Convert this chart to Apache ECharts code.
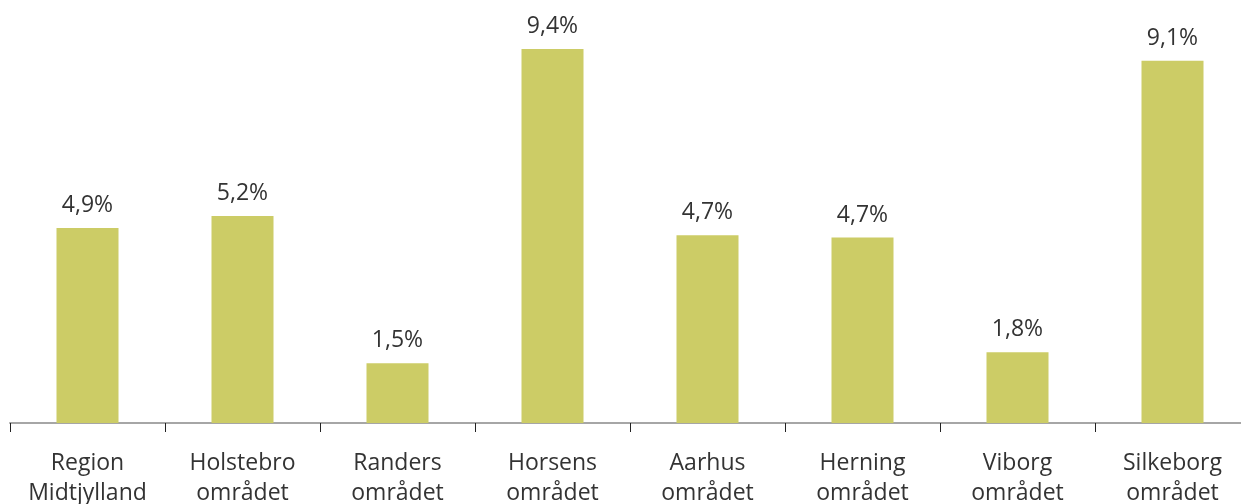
<!DOCTYPE html>
<html><head><meta charset="utf-8">
<script src="https://cdn.jsdelivr.net/npm/echarts@6/dist/echarts.min.js"></script>
<style>html,body{margin:0;padding:0;background:#fff;overflow:hidden;width:1241px;height:504px}#c{width:1260px;height:504px}</style>
</head><body><div id="c"></div>
<script>
const categories = ["Region\nMidtjylland","Holstebro\nområdet","Randers\nområdet","Horsens\nområdet","Aarhus\nområdet","Herning\nområdet","Viborg\nområdet","Silkeborg\nområdet"];
const values = [4.9, 5.2, 1.5, 9.4, 4.72, 4.66, 1.78, 9.1];

const chart = echarts.init(document.getElementById('c'));
chart.setOption({
  animation: false,
  grid: {left: 10, width: 1240, top: 25, bottom: 81, containLabel: false, outerBoundsMode: 'none'},
  xAxis: {
    type: 'category', data: categories,
    axisLine: {lineStyle: {color: '#a6a6a6', width: 2}},
    axisTick: {show: true, alignWithLabel: false, length: 9, lineStyle: {color: '#222', width: 1}},
    axisLabel: {color: '#333', fontFamily: 'Open Sans', fontSize: 23, lineHeight: 30, margin: 25, interval: 0}
  },
  yAxis: {type: 'value', min: 0, max: 10, show: false, splitLine: {show: false}},
  series: [{
    type: 'bar', data: values, barWidth: '40%',
    itemStyle: {color: '#cccc66'},
    label: {show: true, position: 'top', distance: 11, color: '#333', fontFamily: 'Open Sans', fontSize: 23,
      formatter: p => p.value.toFixed(1).replace('.', ',') + '%'}
  }]
});
</script></body></html>
